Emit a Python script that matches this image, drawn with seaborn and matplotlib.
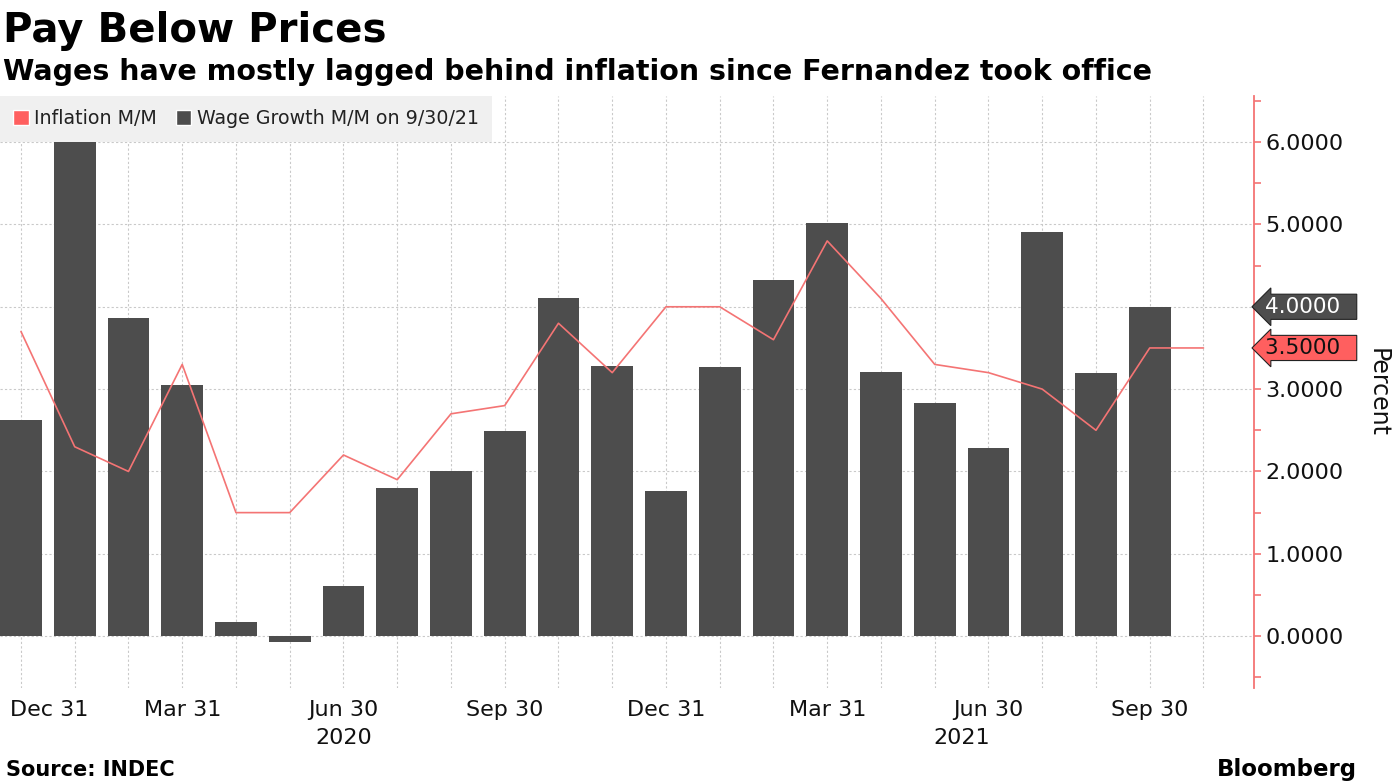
import matplotlib
matplotlib.use("Agg")
import matplotlib.pyplot as plt
import matplotlib.transforms as mtransforms
from matplotlib.patches import Patch
from matplotlib.ticker import MultipleLocator
import seaborn as sns
import pandas as pd

# monthly data, Dec 2019 .. Oct 2021
months = ["2019-12", "2020-01", "2020-02", "2020-03", "2020-04", "2020-05",
          "2020-06", "2020-07", "2020-08", "2020-09", "2020-10", "2020-11",
          "2020-12", "2021-01", "2021-02", "2021-03", "2021-04", "2021-05",
          "2021-06", "2021-07", "2021-08", "2021-09", "2021-10"]
inflation = [3.7, 2.3, 2.0, 3.3, 1.5, 1.5, 2.2, 1.9, 2.7, 2.8, 3.8, 3.2,
             4.0, 4.0, 3.6, 4.8, 4.1, 3.3, 3.2, 3.0, 2.5, 3.5, 3.5]
wages = [2.62, 6.0, 3.86, 3.05, 0.17, -0.07, 0.61, 1.80, 2.01, 2.49, 4.11,
         3.28, 1.76, 3.27, 4.33, 5.02, 3.21, 2.83, 2.29, 4.91, 3.19, 4.0]
tick_labels = ["Dec 31", "", "", "Mar 31", "", "", "Jun 30", "", "", "Sep 30", "", "",
               "Dec 31", "", "", "Mar 31", "", "", "Jun 30", "", "", "Sep 30", ""]
years = ["2020", "2021"]
year_pos = [6, 17.5]
y_ticks = [0, 1, 2, 3, 4, 5, 6]

RED = "#ff5f5f"
LINE_RED = "#f47474"
GREY = "#4d4d4d"

sns.set_theme(style="white")
plt.rcParams["font.family"] = ["DejaVu Sans"]

df_line = pd.DataFrame({"month": months, "pos": range(len(months)), "inflation": inflation})
df_bar = pd.DataFrame({"month": months[:len(wages)], "pos": range(len(wages)), "wage": wages})

fig = plt.figure(figsize=(13.95, 7.84), dpi=100)
ax = fig.add_axes([0, 96 / 784, 1254 / 1395, 592 / 784])

sns.barplot(data=df_bar, x="pos", y="wage", native_scale=True, color=GREY,
            saturation=1, width=0.78, edgecolor="none", ax=ax, zorder=2)
sns.lineplot(data=df_line, x="pos", y="inflation", color=LINE_RED, linewidth=1.2,
             ax=ax, zorder=3)

ax.set_xlim(-0.39, 22.94)
ax.set_ylim(-0.63, 6.56)
ax.set_xlabel("")
ax.set_ylabel("")

# grid
ax.set_axisbelow(True)
ax.grid(True, which="major", color="#c9c9c9", linestyle=(0, (2, 2)), linewidth=0.8)

# spines
for s in ["top", "left", "bottom"]:
    ax.spines[s].set_visible(False)
ax.spines["right"].set_color(LINE_RED)
ax.spines["right"].set_linewidth(1.3)

# y axis on the right; the 4.0000 label sits under the wage tag
ax.yaxis.tick_right()
ax.set_yticks(y_ticks)
ax.set_yticklabels(["" if v == wages[-1] else f"{v:.4f}" for v in y_ticks])
ax.yaxis.set_minor_locator(MultipleLocator(0.5))
ax.tick_params(axis="y", which="both", right=True, left=False, direction="out",
               length=5, width=1.2, color=LINE_RED, labelsize=16, pad=3,
               labelcolor="#111111")

# x axis
ax.set_xticks(range(len(months)))
ax.set_xticklabels(tick_labels)
ax.tick_params(axis="x", length=0, labelsize=16, pad=9, labelcolor="#111111")
first = ax.get_xticklabels()[0]
first.set_horizontalalignment("left")
first.set_transform(first.get_transform() +
                    mtransforms.ScaledTranslation(-0.11, 0, fig.dpi_scale_trans))

trans_x = mtransforms.blended_transform_factory(ax.transData, ax.transAxes)
for yr, p in zip(years, year_pos):
    ax.text(p, -0.085, yr, transform=trans_x, ha="center", va="center",
            fontsize=16, color="#111111")

# value tags at the right axis
trans_y = mtransforms.blended_transform_factory(ax.transAxes, ax.transData)
ax.text(1.009, wages[-1], "4.0000  ", transform=trans_y, ha="left", va="center",
        fontsize=15.5, color="white", clip_on=False, zorder=6,
        bbox=dict(boxstyle="larrow,pad=0.12", fc=GREY, ec="#222222", lw=0.8))
ax.text(1.009, inflation[-1], "3.5000  ", transform=trans_y, ha="left", va="center",
        fontsize=15.5, color="#111111", clip_on=False, zorder=6,
        bbox=dict(boxstyle="larrow,pad=0.12", fc=RED, ec="#222222", lw=0.8))

fig.text(1378 / 1395, 1 - 392 / 784, "Percent", rotation=270, ha="center", va="center",
         fontsize=17, color="#111111")

# legend
handles = [Patch(facecolor=RED, label="Inflation M/M"),
           Patch(facecolor=GREY, label="Wage Growth M/M on 9/30/21")]
leg = ax.legend(handles=handles, loc="upper left", bbox_to_anchor=(0, 1), ncol=2,
                frameon=True, fancybox=False, facecolor="#f0f0f0", edgecolor="none",
                framealpha=1, fontsize=13.7, handlelength=0.8, handleheight=0.8,
                handletextpad=0.3, columnspacing=1.0, borderpad=0.7, borderaxespad=0)
for t in leg.get_texts():
    t.set_color("#222222")

# titles and footer
fig.text(0.002, 1 - 42 / 784, "Pay Below Prices", fontsize=29, fontweight="bold",
         va="baseline", ha="left", color="black")
fig.text(0.002, 1 - 80 / 784,
         "Wages have mostly lagged behind inflation since Fernandez took office",
         fontsize=20.5, fontweight="bold", va="baseline", ha="left", color="black")
fig.text(0.004, 1 - 776 / 784, "Source: INDEC", fontsize=15, fontweight="bold",
         va="baseline", ha="left", color="black")
fig.text(1357 / 1395, 1 - 776 / 784, "Bloomberg", fontsize=16.5, fontweight="bold",
         va="baseline", ha="right", color="black")

fig.savefig("out.png", dpi=100)
plt.close(fig)
